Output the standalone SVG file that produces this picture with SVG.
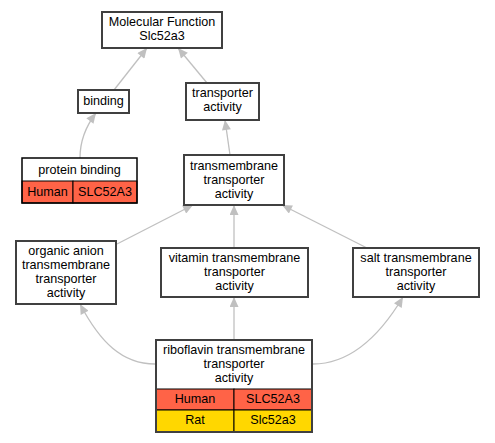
<svg xmlns="http://www.w3.org/2000/svg" width="495" height="443" viewBox="0 0 495 443">
<style>
text{font-family:"Liberation Sans",Arial,sans-serif;font-size:12.6px;fill:#000;text-anchor:middle}
.box{fill:#fff;stroke:#404040;stroke-width:2}
.cell{stroke:#000;stroke-width:1}
.hum{fill:#ff6347}
.rat{fill:#ffd700}
.e{fill:none;stroke:#c0c0c0;stroke-width:1.3}
</style>
<defs>
<marker id="a" viewBox="0 0 10 9" refX="10" refY="4.5" markerWidth="11" markerHeight="9" markerUnits="userSpaceOnUse" orient="auto">
<path d="M0,0L10,4.5L0,9z" fill="#c0c0c0"/>
</marker>
</defs>
<g id="edges">
<path class="e" marker-end="url(#a)" d="M114,90L147,48"/>
<path class="e" marker-end="url(#a)" d="M207,83L178,48"/>
<path class="e" marker-end="url(#a)" d="M80,158C80,140 86,126 96,113"/>
<path class="e" marker-end="url(#a)" d="M230,155L225,120"/>
<path class="e" marker-end="url(#a)" d="M117,244L193,205"/>
<path class="e" marker-end="url(#a)" d="M234,248L234,205"/>
<path class="e" marker-end="url(#a)" d="M367,248L282,205"/>
<path class="e" marker-end="url(#a)" d="M155,364C122,364 100,342 80,304"/>
<path class="e" marker-end="url(#a)" d="M234,340L234,297"/>
<path class="e" marker-end="url(#a)" d="M313,364C346,364 376,342 403,297"/>
</g>
<g id="mf">
<rect class="box" x="102" y="12" width="120" height="36"/>
<text x="162" y="26">Molecular Function</text>
<text x="162" y="40">Slc52a3</text>
</g>
<g id="binding">
<rect class="box" x="78" y="90" width="51" height="23"/>
<text x="103.5" y="105">binding</text>
</g>
<g id="transporter">
<rect class="box" x="186" y="83" width="73" height="37"/>
<text x="222.5" y="97">transporter</text>
<text x="222.5" y="111">activity</text>
</g>
<g id="protein">
<rect x="22" y="158" width="115" height="23" fill="#fff"/>
<rect class="cell hum" x="22" y="181" width="51" height="22"/>
<rect class="cell hum" x="73" y="181" width="64" height="22"/>
<rect x="22" y="158" width="115" height="45" fill="none" stroke="#000" stroke-width="1.5"/>
<text x="79.5" y="174">protein binding</text>
<text x="47.5" y="196">Human</text>
<text x="105" y="196">SLC52A3</text>
</g>
<g id="tta">
<rect class="box" x="184" y="155" width="100" height="50"/>
<text x="234" y="170">transmembrane</text>
<text x="234" y="184">transporter</text>
<text x="234" y="198">activity</text>
</g>
<g id="organic">
<rect class="box" x="16" y="241" width="100" height="63"/>
<text x="66" y="255">organic anion</text>
<text x="66" y="269">transmembrane</text>
<text x="66" y="283">transporter</text>
<text x="66" y="297">activity</text>
</g>
<g id="vitamin">
<rect class="box" x="161" y="248" width="147" height="49"/>
<text x="234.5" y="262">vitamin transmembrane</text>
<text x="234.5" y="276">transporter</text>
<text x="234.5" y="290">activity</text>
</g>
<g id="salt">
<rect class="box" x="353" y="248" width="126" height="49"/>
<text x="416" y="262">salt transmembrane</text>
<text x="416" y="276">transporter</text>
<text x="416" y="290">activity</text>
</g>
<g id="riboflavin">
<rect x="156" y="340" width="156" height="49" fill="#fff"/>
<rect class="cell hum" x="156" y="389" width="78" height="21"/>
<rect class="cell hum" x="234" y="389" width="78" height="21"/>
<rect class="cell rat" x="156" y="410" width="78" height="22"/>
<rect class="cell rat" x="234" y="410" width="78" height="22"/>
<rect x="156" y="340" width="156" height="92" fill="none" stroke="#404040" stroke-width="2"/>
<text x="234" y="354">riboflavin transmembrane</text>
<text x="234" y="368">transporter</text>
<text x="234" y="382">activity</text>
<text x="195" y="403">Human</text>
<text x="273" y="403">SLC52A3</text>
<text x="195" y="424">Rat</text>
<text x="273" y="424">Slc52a3</text>
</g>
</svg>
